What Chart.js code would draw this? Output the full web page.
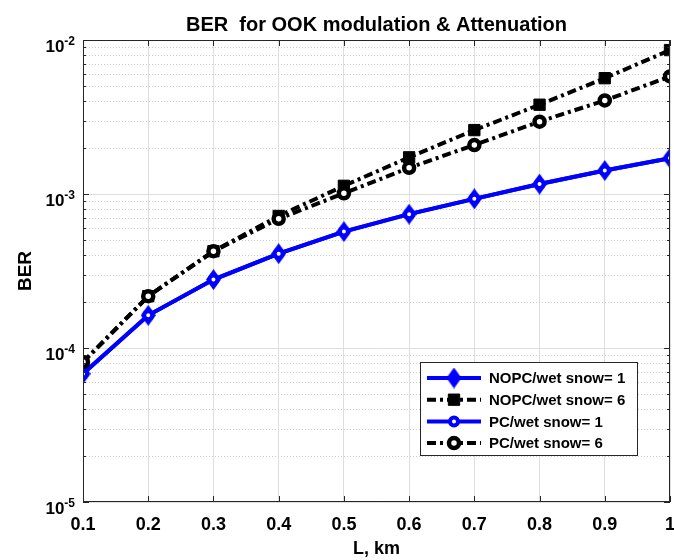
<!DOCTYPE html>
<html>
<head>
<meta charset="utf-8">
<script src="https://cdn.jsdelivr.net/npm/chart.js@4.4.0/dist/chart.umd.min.js"></script>
<style>
  html, body { margin: 0; padding: 0; background: #fff; }
</style>
</head>
<body>
<canvas id="berChart" width="674" height="560"></canvas>
<script>
// data
const distanceKm = [0.1, 0.2, 0.3, 0.4, 0.5, 0.6, 0.7, 0.8, 0.9, 1.0];
const berNopcSnow1 = [6.8e-5, 1.63e-4, 2.78e-4, 4.1e-4, 5.7e-4, 7.4e-4, 9.3e-4, 1.16e-3, 1.42e-3, 1.71e-3];
const berNopcSnow6 = [8.1e-5, 2.17e-4, 4.25e-4, 7.2e-4, 1.13e-3, 1.73e-3, 2.6e-3, 3.8e-3, 5.65e-3, 8.6e-3];
const berPcSnow1 = [6.8e-5, 1.63e-4, 2.78e-4, 4.1e-4, 5.7e-4, 7.4e-4, 9.3e-4, 1.16e-3, 1.42e-3, 1.71e-3];
const berPcSnow6 = [8.1e-5, 2.17e-4, 4.25e-4, 6.9e-4, 1.01e-3, 1.48e-3, 2.08e-3, 2.95e-3, 4.05e-3, 5.8e-3];
const seriesLabels = ['NOPC/wet snow= 1', 'NOPC/wet snow= 6', 'PC/wet snow= 1', 'PC/wet snow= 6'];
const xTickValues = [0.1, 0.2, 0.3, 0.4, 0.5, 0.6, 0.7, 0.8, 0.9, 1.0];
const xTickLabels = ['0.1', '0.2', '0.3', '0.4', '0.5', '0.6', '0.7', '0.8', '0.9', '1'];
const yTickValues = [1e-5, 1e-4, 1e-3, 1e-2];

const FONT = '"Liberation Sans", Arial, Helvetica, sans-serif';
const AXIS_COLOR = '#262626';
const dashDot = [9, 4, 3, 4];

const toPoints = arr => distanceKm.map((x, i) => ({ x: x, y: arr[i] }));

// tall MATLAB style diamond marker
function makeDiamond(w, h, color) {
    const c = document.createElement('canvas');
    c.width = w;
    c.height = h;
    const g = c.getContext('2d');
    g.fillStyle = color;
    g.beginPath();
    g.moveTo(w / 2, 0);
    g.lineTo(w, h / 2);
    g.lineTo(w / 2, h);
    g.lineTo(0, h / 2);
    g.closePath();
    g.fill();
    return c;
}
const blueDiamond = makeDiamond(15, 21, '#0000ff');

// MATLAB-like extras: minor grid, box, inward ticks, tick labels, y title, legend
const matlabAxes = {
    id: 'matlabAxes',
    beforeDatasetsDraw(chart) {
        const { ctx, chartArea: a, scales: { y } } = chart;
        ctx.save();
        ctx.strokeStyle = '#cfcfcf';
        ctx.lineWidth = 1;
        ctx.setLineDash([1, 2]);
        yTickValues.slice(0, -1).forEach(d => {
            for (let m = 2; m <= 9; m++) {
                const py = Math.round(y.getPixelForValue(d * m)) + 0.5;
                ctx.beginPath();
                ctx.moveTo(a.left, py);
                ctx.lineTo(a.right, py);
                ctx.stroke();
            }
        });
        ctx.restore();
    },
    afterDatasetsDraw(chart) {
        const { ctx, chartArea: a, scales: { x, y } } = chart;
        ctx.save();

        // box
        ctx.strokeStyle = AXIS_COLOR;
        ctx.lineWidth = 1;
        ctx.setLineDash([]);
        ctx.strokeRect(Math.round(a.left) + 0.5, Math.round(a.top) + 0.5,
            Math.round(a.right - a.left) - 1, Math.round(a.bottom - a.top) - 1);

        // ticks
        ctx.beginPath();
        xTickValues.forEach(v => {
            const px = Math.round(x.getPixelForValue(v)) + 0.5;
            ctx.moveTo(px, a.bottom); ctx.lineTo(px, a.bottom - 6);
            ctx.moveTo(px, a.top); ctx.lineTo(px, a.top + 6);
        });
        yTickValues.forEach((d, k) => {
            const py = Math.round(y.getPixelForValue(d)) + 0.5;
            ctx.moveTo(a.left, py); ctx.lineTo(a.left + 6, py);
            ctx.moveTo(a.right, py); ctx.lineTo(a.right - 6, py);
            if (k === yTickValues.length - 1) return;
            for (let m = 2; m <= 9; m++) {
                const my = Math.round(y.getPixelForValue(d * m)) + 0.5;
                ctx.moveTo(a.left, my); ctx.lineTo(a.left + 3, my);
                ctx.moveTo(a.right, my); ctx.lineTo(a.right - 3, my);
            }
        });
        ctx.stroke();

        // x tick labels
        ctx.fillStyle = '#000';
        ctx.font = 'bold 18px ' + FONT;
        ctx.textAlign = 'center';
        ctx.textBaseline = 'middle';
        xTickValues.forEach((v, i) => {
            ctx.fillText(xTickLabels[i], x.getPixelForValue(v), a.bottom + 23);
        });

        // y tick labels 10^n
        ctx.textBaseline = 'alphabetic';
        yTickValues.forEach(d => {
            const py = y.getPixelForValue(d);
            const expo = String(Math.round(Math.log10(d)));
            ctx.font = 'bold 12px ' + FONT;
            ctx.textAlign = 'right';
            const ew = ctx.measureText(expo).width;
            const right = a.left - 8;
            ctx.fillText(expo, right, py + 5);
            ctx.font = 'bold 17px ' + FONT;
            ctx.fillText('10', right - ew, py + 11.5);
        });

        // y axis title
        ctx.save();
        ctx.translate(24.5, (a.top + a.bottom) / 2);
        ctx.rotate(-Math.PI / 2);
        ctx.font = 'bold 19px ' + FONT;
        ctx.textAlign = 'center';
        ctx.textBaseline = 'middle';
        ctx.fillText('BER', 0, 1);
        ctx.restore();

        // legend
        const lg = { left: 420.5, top: 362.5, width: 217, height: 93 };
        ctx.fillStyle = '#fff';
        ctx.fillRect(lg.left, lg.top, lg.width, lg.height);
        ctx.strokeStyle = AXIS_COLOR;
        ctx.lineWidth = 1;
        ctx.strokeRect(lg.left, lg.top, lg.width, lg.height);
        chart.data.datasets.forEach((ds, i) => {
            const cy = 378 + i * 21.7;
            ctx.strokeStyle = ds.borderColor;
            ctx.lineWidth = ds.borderWidth;
            ctx.setLineDash(ds.borderDash || []);
            ctx.beginPath();
            ctx.moveTo(427, cy);
            ctx.lineTo(481, cy);
            ctx.stroke();
            ctx.setLineDash([]);
            ctx.fillStyle = ds.pointBackgroundColor;
            ctx.strokeStyle = ds.pointBorderColor;
            ctx.lineWidth = ds.pointBorderWidth;
            Chart.helpers.drawPoint(ctx, {
                pointStyle: ds.pointStyle, radius: ds.pointRadius,
                rotation: 0, borderWidth: ds.pointBorderWidth
            }, 454, cy);
            ctx.fillStyle = '#000';
            ctx.font = 'bold 15px ' + FONT;
            ctx.textAlign = 'left';
            ctx.textBaseline = 'middle';
            ctx.fillText(ds.label, 489, cy + 1);
        });
        ctx.restore();
    }
};

Chart.defaults.font.family = FONT;
Chart.defaults.color = '#000';

const ctx = document.getElementById('berChart').getContext('2d');
new Chart(ctx, {
    type: 'line',
    data: {
        datasets: [
            { label: seriesLabels[0], data: toPoints(berNopcSnow1), order: 4,
              borderColor: '#0000ff', borderWidth: 4, pointStyle: blueDiamond, pointRadius: 8,
              pointBackgroundColor: '#0000ff', pointBorderColor: '#0000ff', pointBorderWidth: 0 },
            { label: seriesLabels[1], data: toPoints(berNopcSnow6), order: 3,
              borderColor: '#000000', borderWidth: 4, borderDash: dashDot, pointStyle: 'rect', pointRadius: 8,
              pointBackgroundColor: '#000000', pointBorderColor: '#000000', pointBorderWidth: 1 },
            { label: seriesLabels[2], data: toPoints(berPcSnow1), order: 2,
              borderColor: '#0000ff', borderWidth: 4, pointStyle: 'circle', pointRadius: 4,
              pointBackgroundColor: '#ffffff', pointBorderColor: '#0000ff', pointBorderWidth: 4 },
            { label: seriesLabels[3], data: toPoints(berPcSnow6), order: 1,
              borderColor: '#000000', borderWidth: 4, borderDash: dashDot, pointStyle: 'circle', pointRadius: 5,
              pointBackgroundColor: '#ffffff', pointBorderColor: '#000000', pointBorderWidth: 4.5 }
        ]
    },
    options: {
        responsive: false,
        animation: false,
        devicePixelRatio: 1,
        events: [],
        layout: { autoPadding: false, padding: { left: 83, right: 4, top: 13.3, bottom: 0 } },
        elements: { line: { tension: 0, fill: false } },
        plugins: {
            legend: { display: false },
            tooltip: { enabled: false },
            title: {
                display: true,
                text: 'BER  for OOK modulation & Attenuation',
                font: { size: 20, weight: 'bold' },
                color: '#000',
                padding: { top: 0, bottom: 2.7 }
            }
        },
        scales: {
            x: {
                type: 'linear',
                min: 0.1,
                max: 1,
                afterBuildTicks: s => { s.ticks = xTickValues.map(v => ({ value: v })); },
                afterFit: s => { s.height = 58; s.paddingLeft = 0; s.paddingRight = 0; },
                ticks: { display: false },
                grid: { color: '#dedede', lineWidth: 1, drawTicks: false },
                border: { display: false },
                title: {
                    display: true,
                    text: 'L, km',
                    font: { size: 18, weight: 'bold' },
                    color: '#000',
                    padding: { top: 0, bottom: 0 }
                }
            },
            y: {
                type: 'logarithmic',
                min: 1e-5,
                max: 1e-2,
                afterBuildTicks: s => { s.ticks = yTickValues.map(v => ({ value: v, major: true })); },
                afterFit: s => { s.width = 0; s.paddingTop = 0; s.paddingBottom = 0; },
                ticks: { display: false },
                grid: { color: '#dedede', lineWidth: 1, drawTicks: false },
                border: { display: false }
            }
        }
    },
    plugins: [matlabAxes]
});
</script>
</body>
</html>
